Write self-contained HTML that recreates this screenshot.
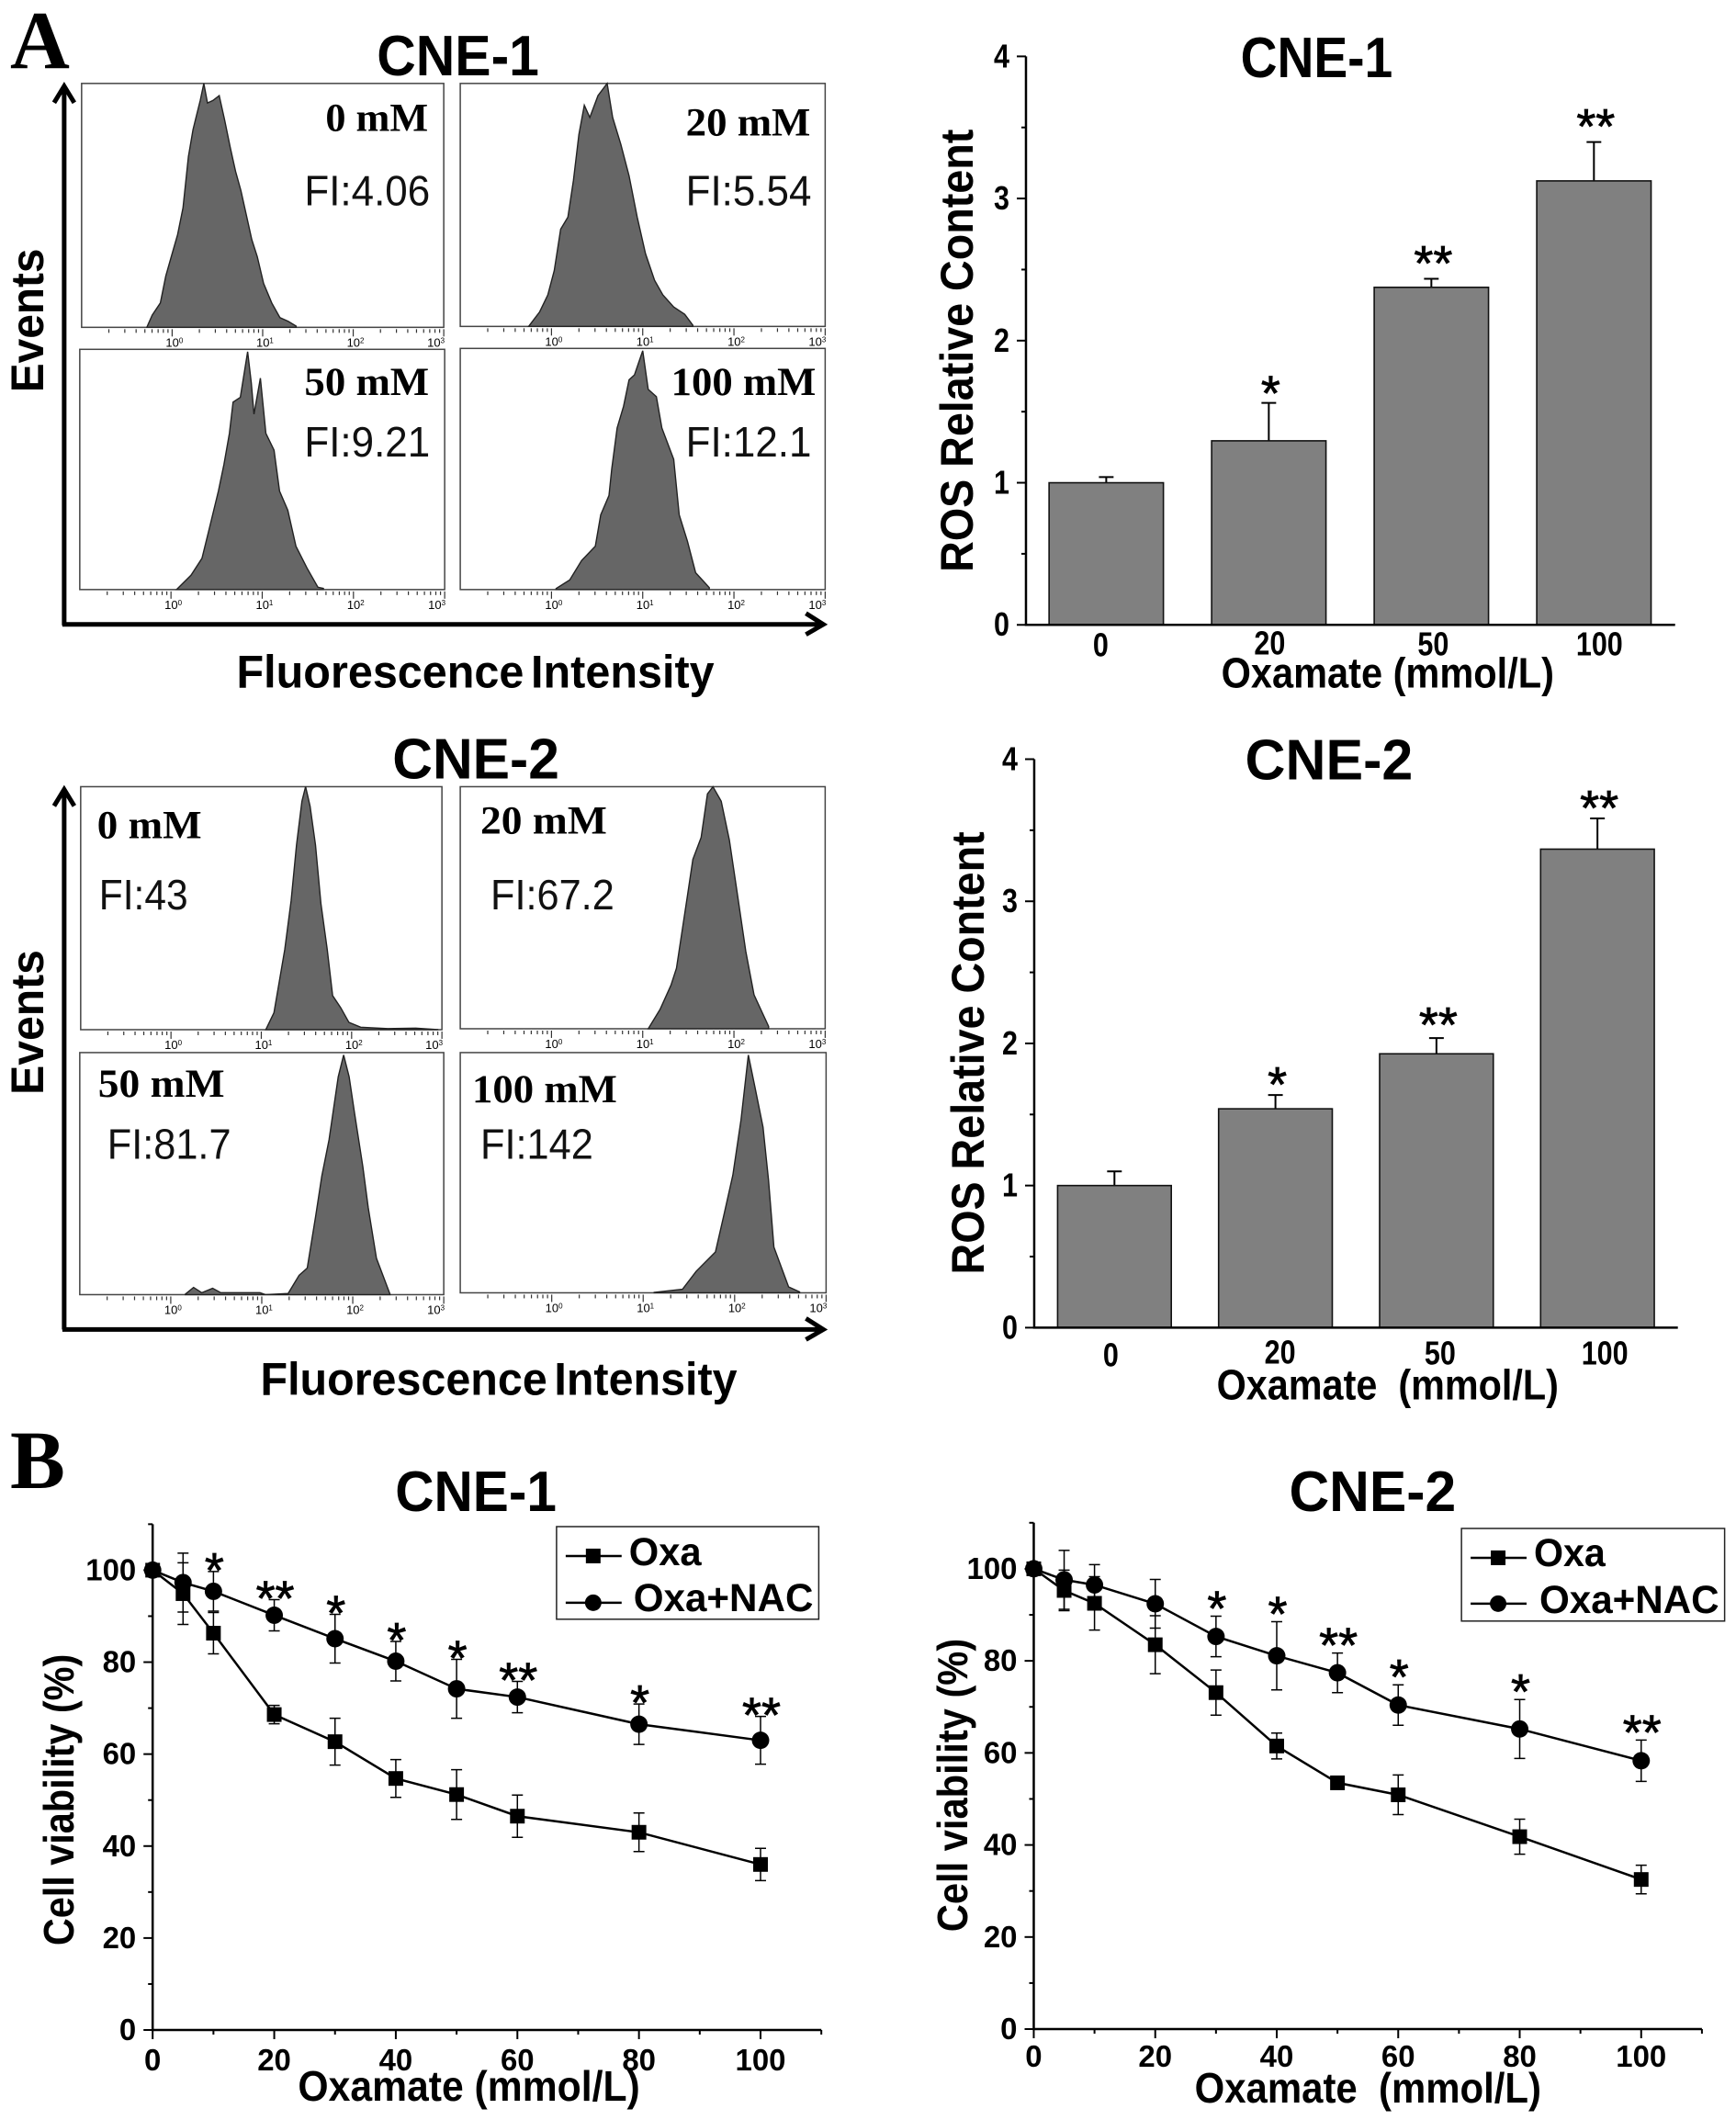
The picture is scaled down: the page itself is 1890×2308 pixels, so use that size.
<!DOCTYPE html>
<html lang="en">
<head>
<meta charset="utf-8">
<title>Oxamate ROS and cell viability figure</title>
<style>
html,body{margin:0;padding:0;background:#fff;}
svg{display:block;}
text{font-family:"Liberation Sans",Arial,sans-serif;fill:#000;}
.b{font-weight:bold;}
.serif{font-family:"Liberation Serif","Times New Roman",serif;font-weight:bold;}
.ttl{font-weight:bold;font-size:62px;}
.axt{font-weight:bold;font-size:50px;}
.dose{font-family:"Liberation Serif","Times New Roman",serif;font-weight:bold;font-size:43px;}
.fi{font-size:46px;fill:#111;}
.oxt{font-weight:bold;font-size:46px;}
.leg{font-weight:bold;font-size:43px;}
.flowx{word-spacing:-6px;}
</style>
</head>
<body>
<svg id="figure" xmlns="http://www.w3.org/2000/svg" width="1890" height="2308" viewBox="0 0 1890 2308">
<rect x="0" y="0" width="1890" height="2308" fill="#fff"/>
<g transform="translate(-1 -1) scale(0.9982)">
<text class="serif" x="12" y="75" font-size="90">A</text>
<text class="serif" x="12" y="1624" font-size="90">B</text>

<text class="ttl" x="412" y="83" textLength="177" lengthAdjust="spacingAndGlyphs">CNE-1</text>
<text class="ttl" x="429" y="850" textLength="182" lengthAdjust="spacingAndGlyphs">CNE-2</text>
<text class="ttl" x="1354" y="85" textLength="166" lengthAdjust="spacingAndGlyphs">CNE-1</text>
<text class="ttl" x="1359" y="851" textLength="183" lengthAdjust="spacingAndGlyphs">CNE-2</text>
<text class="ttl" x="432" y="1649" textLength="176" lengthAdjust="spacingAndGlyphs">CNE-1</text>
<text class="ttl" x="1407" y="1649" textLength="182" lengthAdjust="spacingAndGlyphs">CNE-2</text>

<text class="axt" transform="translate(48 429) rotate(-90)" textLength="157" lengthAdjust="spacingAndGlyphs">Events</text>
<text class="axt" transform="translate(48 1195) rotate(-90)" textLength="158" lengthAdjust="spacingAndGlyphs">Events</text>
<text class="axt flowx" x="259" y="751" textLength="521" lengthAdjust="spacingAndGlyphs">Fluorescence Intensity</text>
<text class="axt flowx" x="285" y="1522" textLength="520" lengthAdjust="spacingAndGlyphs">Fluorescence Intensity</text>

<text class="axt" transform="translate(1062 625) rotate(-90)" textLength="483" lengthAdjust="spacingAndGlyphs">ROS Relative Content</text>
<text class="axt" transform="translate(1074 1391) rotate(-90)" textLength="483" lengthAdjust="spacingAndGlyphs">ROS Relative Content</text>
<text class="oxt" x="1333" y="751" textLength="363" lengthAdjust="spacingAndGlyphs">Oxamate (mmol/L)</text>
<text class="oxt" xml:space="preserve" x="1328" y="1527" textLength="373" lengthAdjust="spacingAndGlyphs">Oxamate  (mmol/L)</text>

<text class="b" font-size="46" transform="translate(81 2123) rotate(-90)" textLength="318" lengthAdjust="spacingAndGlyphs">Cell viability (%)</text>
<text class="b" font-size="46" transform="translate(1056 2108) rotate(-90)" textLength="320" lengthAdjust="spacingAndGlyphs">Cell viability (%)</text>
<text class="oxt" x="326" y="2292" textLength="373" lengthAdjust="spacingAndGlyphs">Oxamate (mmol/L)</text>
<text class="oxt" xml:space="preserve" x="1304" y="2294" textLength="378" lengthAdjust="spacingAndGlyphs">Oxamate  (mmol/L)</text>

<g id="marks"></g>

<g>
<text class="dose" x="356" y="144" textLength="112" lengthAdjust="spacingAndGlyphs">0 mM</text>
<text class="dose" x="749" y="149" textLength="136" lengthAdjust="spacingAndGlyphs">20 mM</text>
<text class="dose" x="333" y="432" textLength="136" lengthAdjust="spacingAndGlyphs">50 mM</text>
<text class="dose" x="733" y="432" textLength="158" lengthAdjust="spacingAndGlyphs">100 mM</text>
<text class="fi" x="333" y="225" textLength="137" lengthAdjust="spacingAndGlyphs">FI:4.06</text>
<text class="fi" x="749" y="225" textLength="137" lengthAdjust="spacingAndGlyphs">FI:5.54</text>
<text class="fi" x="333" y="499" textLength="137" lengthAdjust="spacingAndGlyphs">FI:9.21</text>
<text class="fi" x="749" y="499" textLength="137" lengthAdjust="spacingAndGlyphs">FI:12.1</text>
<text class="dose" x="107" y="915" textLength="114" lengthAdjust="spacingAndGlyphs">0 mM</text>
<text class="dose" x="525" y="910" textLength="138" lengthAdjust="spacingAndGlyphs">20 mM</text>
<text class="dose" x="108" y="1197" textLength="138" lengthAdjust="spacingAndGlyphs">50 mM</text>
<text class="dose" x="516" y="1203" textLength="158" lengthAdjust="spacingAndGlyphs">100 mM</text>
<text class="fi" x="109" y="993" textLength="97" lengthAdjust="spacingAndGlyphs">FI:43</text>
<text class="fi" x="536" y="993" textLength="135" lengthAdjust="spacingAndGlyphs">FI:67.2</text>
<text class="fi" x="118" y="1265" textLength="135" lengthAdjust="spacingAndGlyphs">FI:81.7</text>
<text class="fi" x="525" y="1265" textLength="123" lengthAdjust="spacingAndGlyphs">FI:142</text>
</g>

<g fill="none" stroke="#000" stroke-width="5">
<path d="M71 683V97M60 113L71 95L82 113"/>
<path d="M69 682H899M880 670L899 682L880 693"/>
<path d="M71 1451V864M60 880L71 862L82 880"/>
<path d="M69 1451H899M880 1439L899 1451L880 1462"/>
</g>

<g>
<rect x="608" y="1666" width="286" height="101" fill="#fff" stroke="#222" stroke-width="1.5"/>
<line x1="618" y1="1698" x2="679" y2="1698" stroke="#000" stroke-width="2.5"/>
<rect x="640" y="1690" width="16" height="16" fill="#000"/>
<text class="leg" x="687" y="1708" textLength="79" lengthAdjust="spacingAndGlyphs">Oxa</text>
<line x1="618" y1="1749" x2="679" y2="1749" stroke="#000" stroke-width="2.5"/>
<circle cx="648" cy="1749" r="9" fill="#000"/>
<text class="leg" x="692" y="1758" textLength="196" lengthAdjust="spacingAndGlyphs">Oxa+NAC</text>
</g>
<g>
<rect x="1595" y="1668" width="287" height="101" fill="#fff" stroke="#222" stroke-width="1.5"/>
<line x1="1605" y1="1700" x2="1666" y2="1700" stroke="#000" stroke-width="2.5"/>
<rect x="1627" y="1692" width="16" height="16" fill="#000"/>
<text class="leg" x="1674" y="1709" textLength="78" lengthAdjust="spacingAndGlyphs">Oxa</text>
<line x1="1605" y1="1750" x2="1666" y2="1750" stroke="#000" stroke-width="2.5"/>
<circle cx="1635" cy="1750" r="9" fill="#000"/>
<text class="leg" x="1680" y="1760" textLength="196" lengthAdjust="spacingAndGlyphs">Oxa+NAC</text>
</g>
</g>
</svg>

<script>
/* ---------- flow histograms: log10 intensity and percent of peak height ---------- */
const flowDecadeLabels = ['0', '1', '2', '3'];
const flowMinorMultiples = [2, 3, 4, 5, 6, 7, 8, 9];

const cne1Dose0Log = [-0.28,-0.22,-0.13,-0.07,-0.01,0.06,0.12,0.18,0.23,0.27,0.31,0.35,0.39,0.45,0.52,0.58,0.64,0.70,0.76,0.82,0.88,0.94,1.01,1.10,1.19,1.28,1.37];
const cne1Dose0Pct = [0,5,10,21,29,38,49,70,81,87,93,100,92,93,95,85,74,64,56,46,36,29,18,10,4,2.5,0.5];
const cne1Dose20Log = [-0.25,-0.13,-0.04,0.03,0.10,0.18,0.24,0.30,0.36,0.42,0.51,0.61,0.67,0.76,0.85,0.94,1.03,1.13,1.22,1.34,1.46,1.55];
const cne1Dose20Pct = [0,6,13,23,40,45,60,79,91,86,95,100,86,75,62,45,30,19,13,8,5,0.5];
const cne1Dose50Log = [0.06,0.22,0.34,0.43,0.52,0.58,0.64,0.68,0.76,0.84,0.88,0.91,0.98,1.04,1.13,1.19,1.28,1.37,1.49,1.61,1.67];
const cne1Dose50Pct = [0,6,13,27,41,52,65,78,80,99,86,73,88,65,58,41,33,18,9,1,0.5];
const cne1Dose100Log = [0.05,0.20,0.33,0.48,0.54,0.63,0.66,0.72,0.79,0.85,0.91,1.00,1.06,1.15,1.21,1.34,1.40,1.49,1.58,1.73];
const cne1Dose100Pct = [0.4,4,12,18,31,39,50,67,76,87,89,99,83,80,67,54,31,20,7,0.8];

const cne2Dose0Log = [1.05,1.14,1.20,1.26,1.33,1.39,1.45,1.49,1.54,1.60,1.66,1.73,1.79,1.88,1.97,2.10,2.40,2.71,2.96];
const cne2Dose0Pct = [0,7,20,33,53,76,94,100,92,76,52,33,14,9,3,1,0.4,0.6,0];
const cne2Dose20Log = [1.06,1.19,1.31,1.37,1.43,1.49,1.55,1.64,1.71,1.77,1.86,1.95,2.04,2.13,2.22,2.38];
const cne2Dose20Pct = [0,8,18,25,40,55,70,79,97,100,94,78,55,32,14,1];
const cne2Dose50Log = [0.16,0.25,0.34,0.46,0.55,0.98,1.04,1.29,1.41,1.50,1.59,1.66,1.74,1.84,1.90,1.96,2.02,2.11,2.17,2.26,2.41];
const cne2Dose50Pct = [0.2,3,0.8,2.6,0.8,0.8,0,0.5,8,11,32,49,64,90,99,90,75,53,36,15,0.2];
const cne2Dose100Log = [1.12,1.43,1.58,1.79,1.88,1.98,2.07,2.15,2.22,2.31,2.37,2.43,2.59,2.71];
const cne2Dose100Pct = [0.2,1.5,9,17,32,49,72,99,86,69,47,19,2.5,0.4];

/* ---------- ROS bar charts ---------- */
const barCategories = ['0', '20', '50', '100'];
const barTickLabels = ['0', '1', '2', '3', '4'];
const barCne1Values = [1.0, 1.295, 2.375, 3.124];
const barCne1Errors = [0.04, 0.267, 0.06, 0.273];
const barCne1Stars = ['', '*', '**', '**'];
const barCne2Values = [1.0, 1.54, 1.927, 3.367];
const barCne2Errors = [0.10, 0.097, 0.111, 0.216];
const barCne2Stars = ['', '*', '**', '**'];

/* ---------- viability line charts ---------- */
const viabilityDoses = [0, 5, 10, 20, 30, 40, 50, 60, 80, 100];
const viabilityXTicks = [0, 20, 40, 60, 80, 100];
const viabilityYTicks = [0, 20, 40, 60, 80, 100];
const cne1OxaMeans = [100, 94.9, 86.3, 68.6, 62.7, 54.7, 51.2, 46.5, 43, 36];
const cne1OxaSds = [0, 6.7, 4.5, 2, 5.1, 4.1, 5.4, 4.6, 4.2, 3.5];
const cne1NacMeans = [100, 97.3, 95.4, 90.2, 85.1, 80.2, 74.2, 72.4, 66.5, 63];
const cne1NacSds = [0, 6.4, 4.3, 3.4, 5.3, 4.3, 6.4, 3.4, 4.4, 5.2];
const cne1Stars = ['', '', '*', '**', '*', '*', '*', '**', '*', '**'];
const cne2OxaMeans = [100, 95.3, 92.5, 83.5, 73.1, 61.5, 53.5, 50.9, 41.8, 32.5];
const cne2OxaSds = [0, 4.4, 5.8, 6.3, 4.9, 2.8, 0.4, 4.3, 3.8, 3.1];
const cne2NacMeans = [100, 97.6, 96.5, 92.4, 85.3, 81.1, 77.4, 70.4, 65.2, 58.3];
const cne2NacSds = [0, 6.4, 4.4, 5.3, 4.4, 7.4, 4.3, 4.4, 6.4, 4.5];
const cne2Stars = ['', '', '', '', '*', '*', '**', '*', '*', '**'];

const NS = 'http://www.w3.org/2000/svg';
const marks = document.getElementById('marks');

function svgEl(tag, attrs, parent) {
  const el = document.createElementNS(NS, tag);
  Object.keys(attrs).forEach(function (k) { el.setAttribute(k, attrs[k]); });
  parent.appendChild(el);
  return el;
}

function drawFlow(name, box, logs, pcts) {
  const g = svgEl('g', {}, marks);
  
  
  const xOf = function (log) { return box.l + (log + 1) * (box.r - box.l) / 4; };
  const yOf = function (pct) { return box.b - pct / 100 * (box.b - box.t); };

  const frame = svgEl('rect', { x: box.l, y: box.t, width: box.r - box.l, height: box.b - box.t, fill: '#fff', stroke: '#444', 'stroke-width': 1.5 }, g);
  
  

  let d = 'M' + xOf(logs[0]).toFixed(1) + ' ' + box.b;
  logs.forEach(function (lv, i) { d += 'L' + xOf(lv).toFixed(1) + ' ' + yOf(pcts[i]).toFixed(1); });
  d += 'L' + xOf(logs[logs.length - 1]).toFixed(1) + ' ' + box.b + 'Z';
  const hist = svgEl('path', { d: d, fill: '#666', stroke: '#222', 'stroke-width': 1.4, 'stroke-linejoin': 'miter' }, g);
  
  

  for (let dec = -1; dec < 3; dec++) {
    flowMinorMultiples.forEach(function (m) {
      const mx = xOf(dec + Math.log10(m));
      const minor = svgEl('line', { x1: mx, x2: mx, y1: box.b + 2, y2: box.b + 6, stroke: '#333', 'stroke-width': 1.2 }, g);
      
      
    });
  }
  flowDecadeLabels.forEach(function (lab, i) {
    const tx = xOf(Number(lab));
    const tick = svgEl('line', { x1: tx, x2: tx, y1: box.b + 2, y2: box.b + 10, stroke: '#333', 'stroke-width': 1.2 }, g);
    
    
    const label = svgEl('text', { x: i === 3 ? tx - 18 : tx - 7, y: box.b + 21, 'font-size': 13, fill: '#222' }, g);
    
    
    label.textContent = '10';
    const sup = svgEl('tspan', { dy: -4, 'font-size': 8 }, label);
    sup.textContent = lab;
  });
}

function drawBars(name, geo, values, errors, stars) {
  const g = svgEl('g', {}, marks);
  
  
  const yScale = function (v) { return geo.y0 - v * (geo.y0 - geo.y4) / 4; };
  const xBand = function (i) { return geo.first + i * geo.step; };

  values.forEach(function (v, i) {
    const left = xBand(i);
    const cx = left + geo.width / 2;
    const top = yScale(v + errors[i]);
    const err = svgEl('path', { d: 'M' + cx + ' ' + yScale(v) + 'V' + top + 'M' + (cx - 8) + ' ' + top + 'H' + (cx + 8), fill: 'none', stroke: '#000', 'stroke-width': 2 }, g);
    
    
    const bar = svgEl('rect', { x: left, y: yScale(v), width: geo.width, height: geo.y0 - yScale(v), fill: '#808080', stroke: '#111', 'stroke-width': 1.6 }, g);
    
    
    if (stars[i]) {
      const star = svgEl('text', { x: cx + 2, y: top - geo.starGap[i] + 24, 'font-size': 54, 'text-anchor': 'middle', stroke: '#000', 'stroke-width': 0.8 }, g);
      
      
      star.textContent = stars[i];
    }
    const cat = svgEl('text', { x: cx + geo.labelNudge[i], y: geo.catY[i], 'font-size': 36, 'font-weight': 'bold', 'text-anchor': 'middle', textLength: barCategories[i].length * 17, lengthAdjust: 'spacingAndGlyphs' }, g);
    
    
    cat.textContent = barCategories[i];
  });

  const axis = svgEl('path', { d: 'M' + geo.x + ' ' + geo.y4 + 'V' + geo.y0 + 'H' + geo.right, fill: 'none', stroke: '#000', 'stroke-width': 2.5 }, g);
  
  
  barTickLabels.forEach(function (lab) {
    const yy = yScale(Number(lab));
    const tick = svgEl('line', { x1: geo.x - 10, x2: geo.x, y1: yy, y2: yy, stroke: '#000', 'stroke-width': 2 }, g);
    
    
    const txt = svgEl('text', { x: geo.x - 18, y: yy + 12, 'font-size': 36, 'font-weight': 'bold', 'text-anchor': 'end', textLength: 17, lengthAdjust: 'spacingAndGlyphs' }, g);
    
    
    txt.textContent = lab;
    if (Number(lab) < 4) {
      const my = yScale(Number(lab) + 0.5);
      const minor = svgEl('line', { x1: geo.x - 5, x2: geo.x, y1: my, y2: my, stroke: '#000', 'stroke-width': 2 }, g);
      
      
    }
  });
}

function drawViability(name, geo, oxaM, oxaS, nacM, nacS, stars) {
  const g = svgEl('g', {}, marks);
  
  
  const xScale = function (v) { return geo.x0 + v * (geo.x100 - geo.x0) / 100; };
  const yScale = function (v) { return geo.y0 - v * (geo.y0 - geo.y100) / 100; };

  const axis = svgEl('path', { d: 'M' + geo.x0 + ' ' + yScale(110) + 'V' + geo.y0 + 'H' + xScale(110), fill: 'none', stroke: '#000', 'stroke-width': 2.5 }, g);
  
  

  for (let v = 0; v <= 110; v += 10) {
    const major = v % 20 === 0 && v <= 100;
    const yy = yScale(v);
    const xx = xScale(v);
    const yt = svgEl('line', { x1: geo.x0 - (major ? 10 : 5), x2: geo.x0, y1: yy, y2: yy, stroke: '#000', 'stroke-width': 2 }, g);
    
    
    const xt = svgEl('line', { x1: xx, x2: xx, y1: geo.y0, y2: geo.y0 + (major ? 10 : 5), stroke: '#000', 'stroke-width': 2 }, g);
    
    
  }
  viabilityYTicks.forEach(function (t) {
    const lab = svgEl('text', { x: geo.x0 - 18, y: yScale(t) + 11, 'font-size': 33, 'font-weight': 'bold', 'text-anchor': 'end' }, g);
    
    
    lab.textContent = t;
  });
  viabilityXTicks.forEach(function (t) {
    const lab = svgEl('text', { x: xScale(t), y: geo.xLabelY, 'font-size': 33, 'font-weight': 'bold', 'text-anchor': 'middle' }, g);
    
    
    lab.textContent = t;
  });

  const series = [
    { means: oxaM, sds: oxaS, seriesName: 'oxa' },
    { means: nacM, sds: nacS, seriesName: 'oxa-nac' }
  ];
  series.forEach(function (s) {
    const d = s.means.map(function (m, i) { return (i ? 'L' : 'M') + xScale(viabilityDoses[i]).toFixed(1) + ' ' + yScale(m).toFixed(1); }).join('');
    const line = svgEl('path', { d: d, fill: 'none', stroke: '#000', 'stroke-width': 2.5 }, g);
    
    
    s.means.forEach(function (m, i) {
      const cx = xScale(viabilityDoses[i]);
      const cy = yScale(m);
      if (s.sds[i] > 0) {
        const hi = yScale(m + s.sds[i]);
        const lo = yScale(m - s.sds[i]);
        const err = svgEl('path', { d: 'M' + cx + ' ' + hi + 'V' + lo + 'M' + (cx - 6) + ' ' + hi + 'H' + (cx + 6) + 'M' + (cx - 6) + ' ' + lo + 'H' + (cx + 6), fill: 'none', stroke: '#000', 'stroke-width': 1.5 }, g);
        
        
      }
      if (s.seriesName === 'oxa') {
        const sq = svgEl('rect', { x: cx - 8, y: cy - 8, width: 16, height: 16, fill: '#000' }, g);
        
        
      } else {
        const dot = svgEl('circle', { cx: cx, cy: cy, r: 9.5, fill: '#000' }, g);
        
        
      }
    });
  });

  stars.forEach(function (st, i) {
    if (!st) return;
    const top = yScale(nacM[i] + nacS[i]);
    const star = svgEl('text', { x: xScale(viabilityDoses[i]) + 1, y: top - geo.starGap + 24, 'font-size': 54, 'text-anchor': 'middle', stroke: '#000', 'stroke-width': 0.8 }, g);
    
    
    star.textContent = st;
  });
}

drawFlow('flow-cne1-0mm', { l: 90, r: 485, t: 92, b: 358 }, cne1Dose0Log, cne1Dose0Pct);
drawFlow('flow-cne1-20mm', { l: 503, r: 901, t: 92, b: 357 }, cne1Dose20Log, cne1Dose20Pct);
drawFlow('flow-cne1-50mm', { l: 88, r: 486, t: 382, b: 644 }, cne1Dose50Log, cne1Dose50Pct);
drawFlow('flow-cne1-100mm', { l: 503, r: 901, t: 381, b: 644 }, cne1Dose100Log, cne1Dose100Pct);
drawFlow('flow-cne2-0mm', { l: 89, r: 483, t: 859, b: 1124 }, cne2Dose0Log, cne2Dose0Pct);
drawFlow('flow-cne2-20mm', { l: 503, r: 901, t: 859, b: 1123 }, cne2Dose20Log, cne2Dose20Pct);
drawFlow('flow-cne2-50mm', { l: 88, r: 485, t: 1149, b: 1413 }, cne2Dose50Log, cne2Dose50Pct);
drawFlow('flow-cne2-100mm', { l: 503, r: 902, t: 1149, b: 1411 }, cne2Dose100Log, cne2Dose100Pct);

drawBars('bar-chart-cne1', { x: 1120, right: 1828, y0: 682.5, y4: 62.5, first: 1145.2, step: 177.3, width: 124.7, labelNudge: [-6, 1, 2, 6], catY: [717, 715, 716, 716], starGap: [0, 16, 22.5, 22.5] }, barCne1Values, barCne1Errors, barCne1Stars);
drawBars('bar-chart-cne2', { x: 1129, right: 1831, y0: 1449, y4: 829, first: 1154.5, step: 175.6, width: 124, labelNudge: [-4, 5, 4, 8], catY: [1491, 1488, 1489, 1489], starGap: [0, 17, 20, 17] }, barCne2Values, barCne2Errors, barCne2Stars);

drawViability('viability-chart-cne1', { x0: 167.5, x100: 830.5, y0: 2215, y100: 1713.5, xLabelY: 2259, starGap: 7 }, cne1OxaMeans, cne1OxaSds, cne1NacMeans, cne1NacSds, cne1Stars);
drawViability('viability-chart-cne2', { x0: 1128.5, x100: 1791, y0: 2214, y100: 1712, xLabelY: 2255, starGap: 14 }, cne2OxaMeans, cne2OxaSds, cne2NacMeans, cne2NacSds, cne2Stars);
</script>
</body>
</html>
